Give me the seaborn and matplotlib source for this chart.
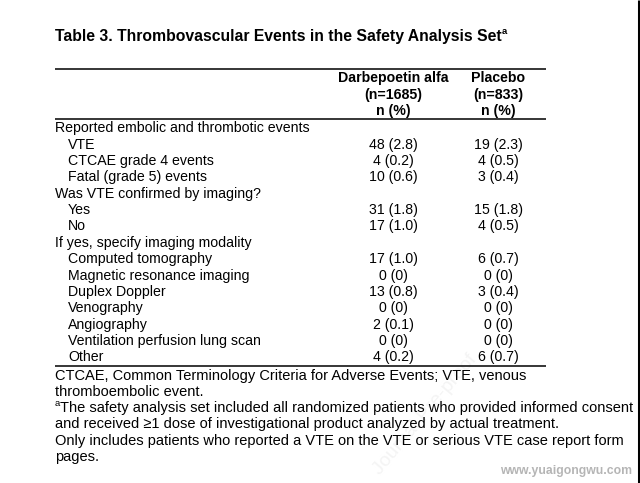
import matplotlib
matplotlib.use("Agg")
import matplotlib.pyplot as plt
import seaborn as sns

# ---------------- data ----------------
title = "Table 3. Thrombovascular Events in the Safety Analysis Set"
col_headers = [["Darbepoetin alfa", "(n=1685)", "n (%)"],
               ["Placebo", "(n=833)", "n (%)"]]
row_labels = ["Reported embolic and thrombotic events", "VTE", "CTCAE grade 4 events",
              "Fatal (grade 5) events", "Was VTE confirmed by imaging?", "Yes", "No",
              "If yes, specify imaging modality", "Computed tomography",
              "Magnetic resonance imaging", "Duplex Doppler", "Venography",
              "Angiography", "Ventilation perfusion lung scan", "Other"]
indent_level = [0, 1, 1, 1, 0, 1, 1, 0, 1, 1, 1, 1, 1, 1, 1]
darbe_n = [None, 48, 4, 10, None, 31, 17, None, 17, 0, 13, 0, 2, 0, 4]
darbe_pct = [None, "2.8", "0.2", "0.6", None, "1.8", "1.0", None, "1.0", "0", "0.8", "0", "0.1", "0", "0.2"]
placebo_n = [None, 19, 4, 3, None, 15, 4, None, 6, 0, 3, 0, 0, 0, 6]
placebo_pct = [None, "2.3", "0.5", "0.4", None, "1.8", "0.5", None, "0.7", "0", "0.4", "0", "0", "0", "0.7"]
footnotes = ["CTCAE, Common Terminology Criteria for Adverse Events; VTE, venous",
             "thromboembolic event.",
             "The safety analysis set included all randomized patients who provided informed consent",
             "and received \u22651 dose of investigational product analyzed by actual treatment.",
             "Only includes patients who reported a VTE on the VTE or serious VTE case report form",
             "pages."]
footnote_sup = [None, None, "a", None, None, None]
site_mark = "www.yuaigongwu.com"

# ---------------- style ----------------
sns.set_theme(style="white")
plt.rcParams["font.family"] = ["Liberation Sans", "DejaVu Sans"]

W, H = 640, 483
fig = plt.figure(figsize=(W / 100, H / 100), dpi=100)
ax = fig.add_axes([0, 0, 1, 1])
ax.set_xlim(0, W)
ax.set_ylim(H, 0)
ax.axis("off")

FS = 10.2
FS_FOOT = 10.5
left = 55
indent = 13
col_x = [393, 498]
rule_x0, rule_x1 = 55, 546

renderer = fig.canvas.get_renderer()

# title + superscript
t = ax.text(left, 37, title, fontsize=11.3, fontweight="bold", va="center", ha="left", color="black")
bb = t.get_window_extent(renderer=renderer)
sup_x = ax.transData.inverted().transform((bb.x1, 0))[0]
ax.text(sup_x + 0.5, 31, "a", fontsize=6.8, fontweight="bold", va="center", ha="left", color="black")

# rules
ax.hlines([69, 119, 366], rule_x0, rule_x1, color="black", lw=1.1)

# headers
for cx, lines in zip(col_x, col_headers):
    for j, s in enumerate(lines):
        ax.text(cx, [78, 94.5, 111][j], s, fontsize=FS, fontweight="bold", ha="center", va="center",
                color="black")

# rows
y0, dy = 128.3, 16.36
for i, lab in enumerate(row_labels):
    y = y0 + i * dy
    ax.text(left + indent * indent_level[i], y, lab, fontsize=FS, ha="left", va="center", color="black")
    if darbe_n[i] is not None:
        ax.text(col_x[0], y, f"{darbe_n[i]} ({darbe_pct[i]})", fontsize=FS, ha="center", va="center",
                color="black")
    if placebo_n[i] is not None:
        ax.text(col_x[1], y, f"{placebo_n[i]} ({placebo_pct[i]})", fontsize=FS, ha="center", va="center",
                color="black")

# footnotes
fy0, fdy = 375.8, 16.2
for i, s in enumerate(footnotes):
    y = fy0 + i * fdy
    x = left
    if footnote_sup[i]:
        ax.text(x, y - 4.5, footnote_sup[i], fontsize=6.8, ha="left", va="center", color="black")
        x += 5.5
    ax.text(x, y, s, fontsize=FS_FOOT, ha="left", va="center", color="black")

# watermarks
ax.text(425, 415, "Journal Pre-proof", fontsize=14, rotation=50, ha="center", va="center",
        color="#f4f4f4", zorder=0)
ax.text(632, 471, site_mark, fontsize=8.8, fontweight="bold", ha="right", va="center", color="#b5b5b5")

# right edge strip
ax.vlines(639, 0, H, color="black", lw=2.2)

fig.savefig("out.png", dpi=100, facecolor="white")
